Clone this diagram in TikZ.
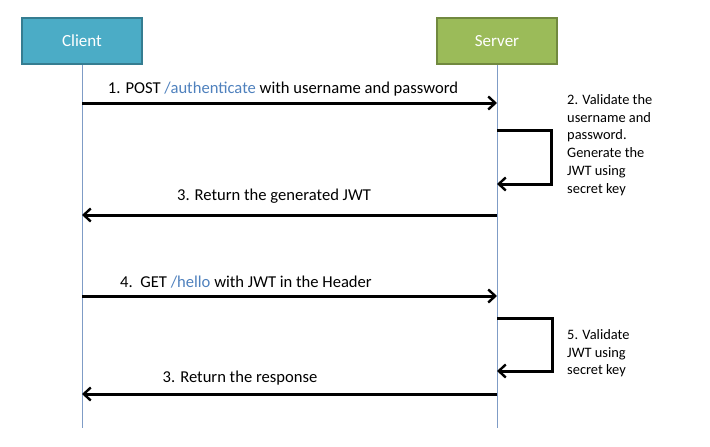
\documentclass[tikz,border=0pt]{standalone}
\usepackage{fontspec}
\setmainfont{Carlito}
\usetikzlibrary{arrows.meta}
\definecolor{clientfill}{HTML}{4BACC6}
\definecolor{clientline}{HTML}{357D91}
\definecolor{serverfill}{HTML}{9BBB59}
\definecolor{serverline}{HTML}{71893F}
\definecolor{lifeline}{HTML}{7F9CC6}
\definecolor{pathblue}{HTML}{4F81BD}
\tikzset{
  actor/.style={draw, line width=1.5pt, minimum width=120pt, minimum height=46pt, text=white, font=\fontsize{17}{20}\selectfont},
  msg/.style={line width=3pt, -{Straight Barb[length=7pt,width=13pt,line width=2.4pt]}},
  lbl/.style={font=\fontsize{16.6}{19}\selectfont, inner sep=0pt},
  note/.style={font=\fontsize{14.4}{17.8}\selectfont, align=left, anchor=north west, inner sep=0pt},
  life/.style={draw=lifeline, line width=0.9pt}
}
\begin{document}
\begin{tikzpicture}[x=1pt,y=-1pt]
\useasboundingbox (0,0) rectangle (710,447);
\node[actor, fill=clientfill, draw=clientline] (client) at (82,41) {Client};
\node[actor, fill=serverfill, draw=serverline] (server) at (497,41) {Server};
\coordinate (cend) at (82,428);
\coordinate (send) at (497,428);
\draw[life] (client.south) -- (cend);
\draw[life] (server.south) -- (send);
% message 1
\coordinate (c1) at (82,103); \coordinate (s1) at (497,103);
\draw[msg] (c1) -- (s1);
\node[lbl] (l1) at (283,89) {1. POST \textcolor{pathblue}{/authenticate} with username and password};
% self loop 2
\coordinate (s2a) at (497,130); \coordinate (s2b) at (551,130);
\coordinate (s2c) at (551,184); \coordinate (s2d) at (497,184);
\draw[msg, line join=miter] (s2a) -- (s2b) -- (s2c) -- (s2d);
\node[note] (n2) at (567,94) {2. Validate the\\username and\\password.\\Generate the\\JWT using\\secret key};
% message 3
\coordinate (s3) at (497,215); \coordinate (c3) at (82,215);
\draw[msg] (s3) -- (c3);
\node[lbl] (l3) at (274,196) {3. Return the generated JWT};
% message 4
\coordinate (c4) at (82,296); \coordinate (s4) at (497,296);
\draw[msg] (c4) -- (s4);
\node[lbl] (l4) at (246,282) {4.\ \ GET \textcolor{pathblue}{/hello} with JWT in the Header};
% self loop 5
\coordinate (s5a) at (497,318); \coordinate (s5b) at (552,318);
\coordinate (s5c) at (552,371); \coordinate (s5d) at (497,371);
\draw[msg, line join=miter] (s5a) -- (s5b) -- (s5c) -- (s5d);
\node[note] (n5) at (567,329) {5. Validate\\JWT using\\secret key};
% message 6
\coordinate (s6) at (497,394); \coordinate (c6) at (82,394);
\draw[msg] (s6) -- (c6);
\node[lbl] (l6) at (240,378) {3. Return the response};
\end{tikzpicture}
\end{document}
